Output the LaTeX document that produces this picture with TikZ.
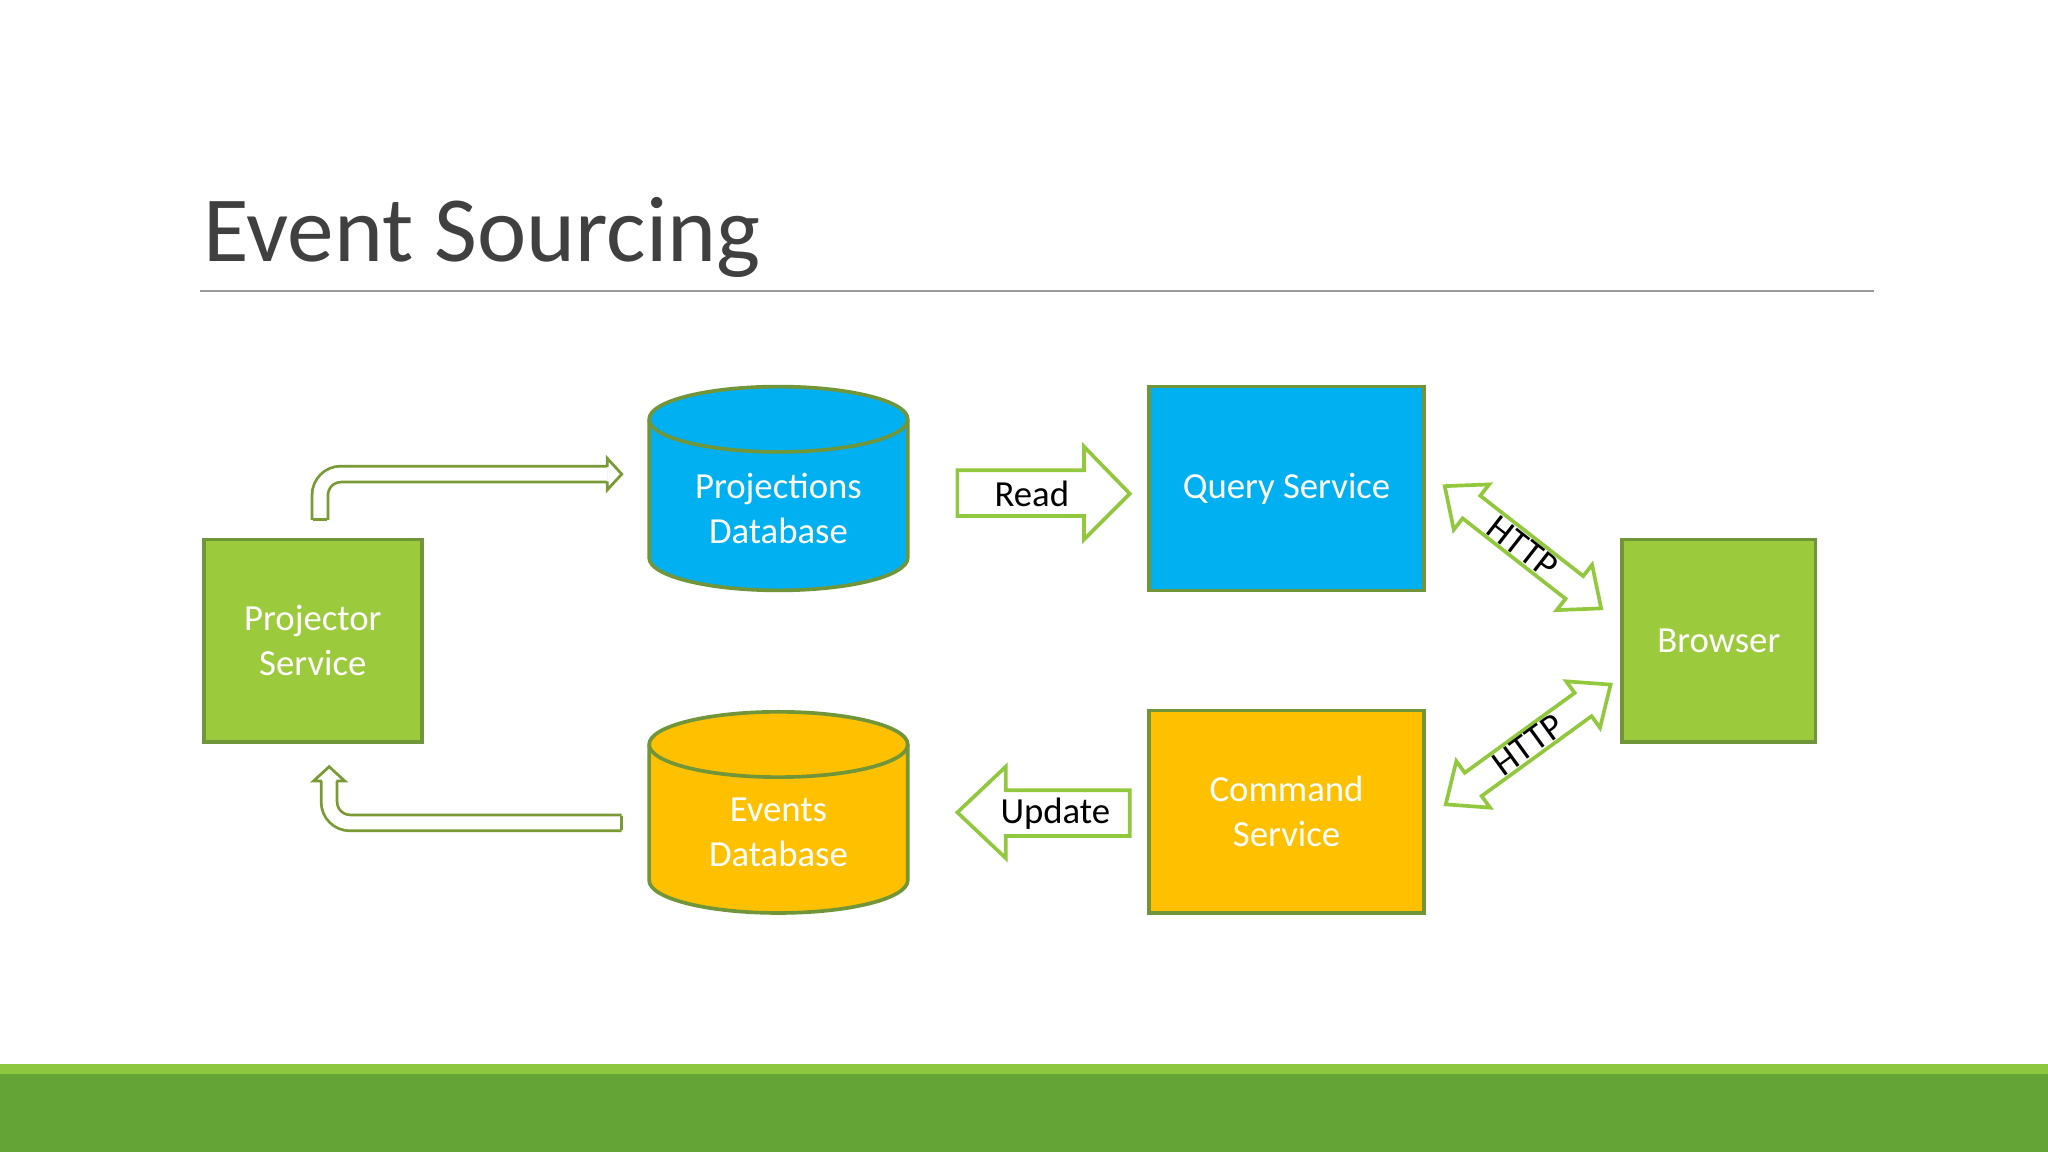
\documentclass[tikz,border=0pt]{standalone}
\usepackage{fontspec}
\setmainfont{Carlito}
\definecolor{boxgreen}{HTML}{9BCB3C}
\definecolor{boxedge}{HTML}{71963A}
\definecolor{dbblue}{HTML}{00B0F0}
\definecolor{dbgold}{HTML}{FFC000}
\definecolor{arrgreen}{HTML}{92C83E}
\definecolor{bentgreen}{HTML}{7A9A35}
\definecolor{bandlight}{HTML}{8DC63F}
\definecolor{banddark}{HTML}{64A437}
\definecolor{titlegray}{HTML}{404040}
\begin{document}
\begin{tikzpicture}[x=0.01cm,y=-0.01cm,
    box/.style={draw=boxedge,line width=0.8pt,text=white,align=center,
        font=\fontsize{8}{9.8}\selectfont,inner sep=0pt},
    db/.style={draw=boxedge,line width=0.8pt},
    dblabel/.style={text=white,align=center,font=\fontsize{8}{9.8}\selectfont},
    blockarrow/.style={draw=arrgreen,fill=white,line width=0.8pt,line join=miter},
    arrlabel/.style={font=\fontsize{8}{9.8}\selectfont,text=black},
    bent/.style={draw=bentgreen,line width=0.6pt,double=white,double distance=0.1cm}
]
\useasboundingbox (0,0) rectangle (1568,882);
\fill[white] (0,0) rectangle (1568,882);
% band
\fill[bandlight] (0,815) rectangle (1568,823);
\fill[banddark] (0,822) rectangle (1568,882);
% title
\node[anchor=base west,inner sep=0pt,text=titlegray,font=\fontsize{20.3}{24}\selectfont] (title) at (155,200) {Event Sourcing};
\draw[gray!80,line width=0.5pt] (153,223) -- (1435,223);

% boxes
\node[box,fill=boxgreen,minimum width=1.67cm,minimum height=1.55cm] (proj) at (239.5,490.5) {Projector\\Service};
\node[box,fill=dbblue,minimum width=2.1cm,minimum height=1.56cm] (query) at (985,374) {Query Service};
\node[box,fill=dbgold,minimum width=2.1cm,minimum height=1.55cm] (cmd) at (985,621.5) {Command\\Service};
\node[box,fill=boxgreen,minimum width=1.48cm,minimum height=1.55cm] (browser) at (1316,490.5) {Browser};

% cylinders
\filldraw[db,fill=dbblue] (497,321) -- (497,427) arc[start angle=180,end angle=0,x radius=99,y radius=25] -- (695,321) arc[start angle=360,end angle=180,x radius=99,y radius=25];
\draw[db] (497,321) arc[start angle=180,end angle=0,x radius=99,y radius=25];
\node[dblabel] (projdb) at (596,389) {Projections\\Database};
\filldraw[db,fill=dbgold] (497,570) -- (497,674) arc[start angle=180,end angle=0,x radius=99,y radius=25] -- (695,570) arc[start angle=360,end angle=180,x radius=99,y radius=25];
\draw[db] (497,570) arc[start angle=180,end angle=0,x radius=99,y radius=25];
\node[dblabel] (evdb) at (596,637) {Events\\Database};

% Read arrow
\draw[blockarrow] (733,360) -- (830,360) -- (830,342) -- (865,378) -- (830,413) -- (830,395) -- (733,395) -- cycle;
\node[arrlabel] (read) at (790,378) {Read};
% Update arrow
\draw[blockarrow] (865,605) -- (770,605) -- (770,587) -- (733,622) -- (770,657) -- (770,640) -- (865,640) -- cycle;
\node[arrlabel] (update) at (808,623) {Update};

% HTTP arrows
\begin{scope}[shift={(1166,419)},rotate=-38]
  \draw[blockarrow] (-76,0) -- (-50,22) -- (-50,11) -- (50,11) -- (50,22) -- (76,0) -- (50,-22) -- (50,-11) -- (-50,-11) -- (-50,-22) -- cycle;
  \node[arrlabel,rotate=-38] (http1) at (0,0) {HTTP};
\end{scope}
\begin{scope}[shift={(1170,570)},rotate=36]
  \draw[blockarrow] (-78,0) -- (-52,22) -- (-52,11) -- (52,11) -- (52,22) -- (78,0) -- (52,-22) -- (52,-11) -- (-52,-11) -- (-52,-22) -- cycle;
  \node[arrlabel,rotate=36] (http2) at (0,0) {HTTP};
\end{scope}

% bent arrows
\coordinate (b1s) at (245,398);
\coordinate (b1e) at (465,363);
\draw[bent,rounded corners=0.16cm] (b1s) -- (245,363) -- (b1e);
\draw[bentgreen,line width=0.6pt] (239.5,398) -- (250.5,398);
\filldraw[draw=bentgreen,fill=white,line width=0.6pt] (465,357.5) -- (465,351) -- (476,363) -- (465,375) -- (465,368.5);
\coordinate (b2s) at (476,630);
\coordinate (b2e) at (252,598);
\draw[bent,rounded corners=0.16cm] (b2s) -- (252,630) -- (b2e);
\draw[bentgreen,line width=0.6pt] (476,624.5) -- (476,635.5);
\filldraw[draw=bentgreen,fill=white,line width=0.6pt] (246.5,598) -- (240,598) -- (252,587) -- (264,598) -- (257.5,598);
\end{tikzpicture}
\end{document}
